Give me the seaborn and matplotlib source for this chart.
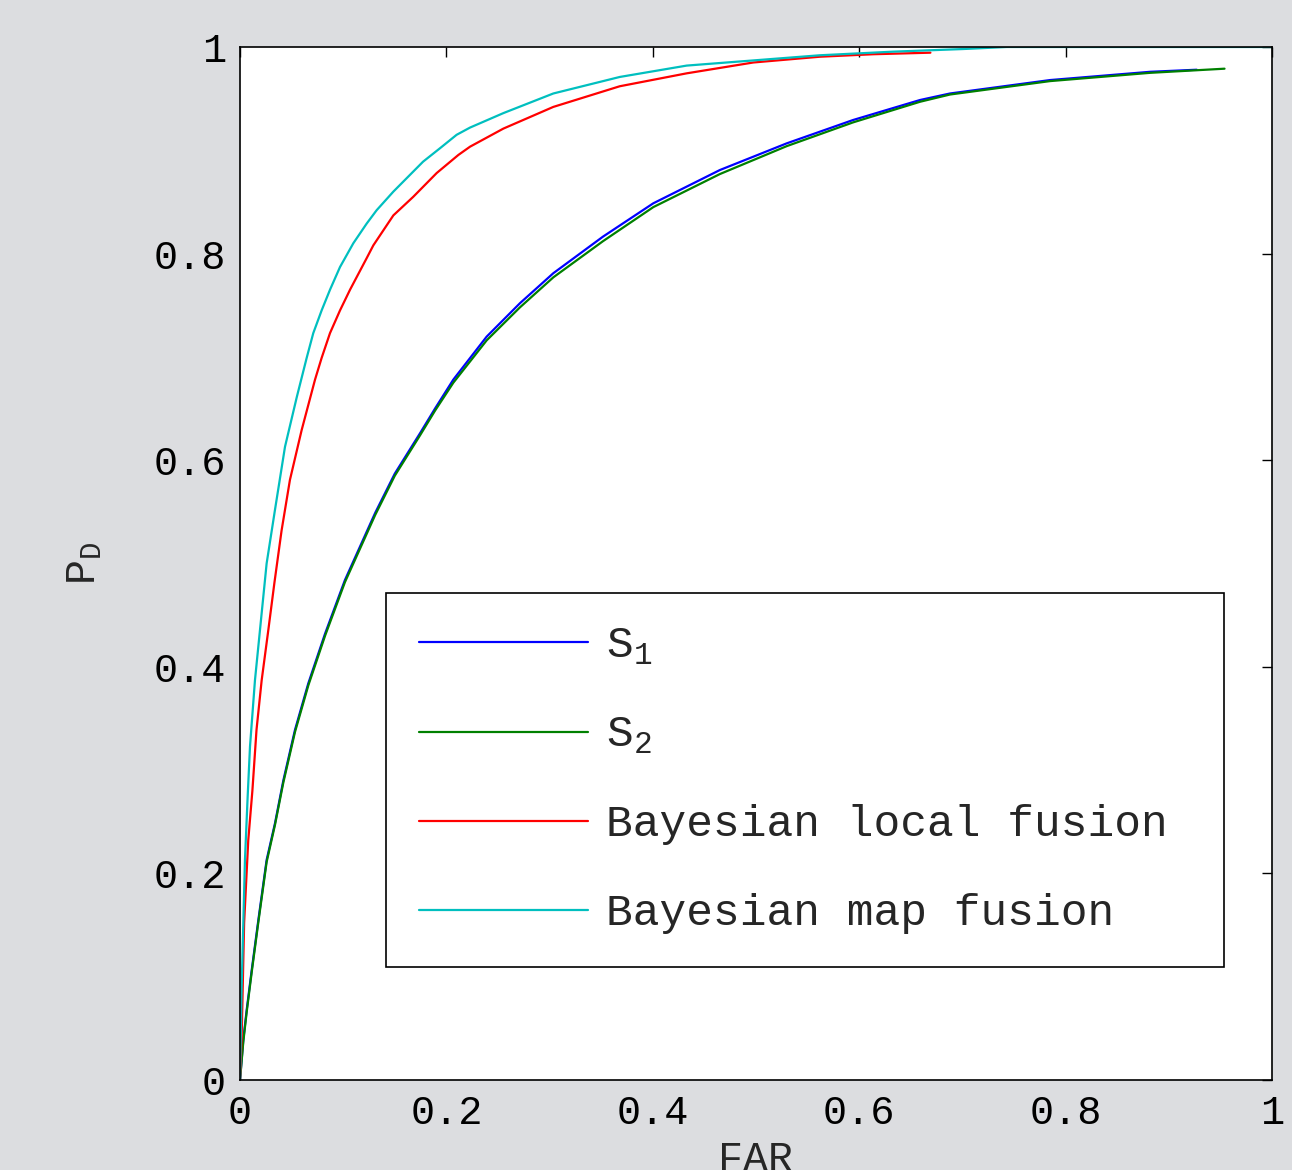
import numpy as np
import pandas as pd
import matplotlib
matplotlib.use("Agg")
import matplotlib.pyplot as plt
import seaborn as sns

# ROC curves (FAR, P_D)
s1_far = [0, 0.0032, 0.0065, 0.0113, 0.0178, 0.0258, 0.0339, 0.042, 0.0533, 0.0662, 0.0824,
          0.1017, 0.131, 0.150, 0.1744, 0.189, 0.2067, 0.239, 0.2713, 0.3036, 0.3517, 0.4005,
          0.465, 0.5297, 0.594, 0.659, 0.688, 0.785, 0.882, 0.927]
s1_pd = [0, 0.039, 0.068, 0.106, 0.155, 0.213, 0.2485, 0.29, 0.339, 0.384, 0.432,
         0.484, 0.549, 0.587, 0.626, 0.650, 0.678, 0.7196, 0.752, 0.781, 0.8164, 0.8487,
         0.8809, 0.9067, 0.9293, 0.9487, 0.955, 0.968, 0.976, 0.978]

s2_far = [0, 0.0032, 0.0065, 0.0113, 0.0178, 0.0258, 0.0339, 0.042, 0.0533, 0.0662, 0.0824,
          0.1017, 0.131, 0.150, 0.1744, 0.189, 0.2067, 0.239, 0.2713, 0.3036, 0.3517, 0.4005,
          0.465, 0.5297, 0.594, 0.659, 0.688, 0.785, 0.882, 0.954]
s2_pd = [0, 0.037, 0.066, 0.104, 0.153, 0.211, 0.247, 0.288, 0.337, 0.382, 0.430,
         0.482, 0.547, 0.585, 0.624, 0.648, 0.675, 0.716, 0.748, 0.777, 0.812, 0.845,
         0.877, 0.904, 0.927, 0.947, 0.954, 0.967, 0.975, 0.979]

local_far = [0, 0.0016, 0.004, 0.008, 0.012, 0.016, 0.021, 0.0275, 0.0333, 0.0403, 0.0484,
             0.0597, 0.0727, 0.0791, 0.0872, 0.0969, 0.1066, 0.1227, 0.1292, 0.1486, 0.1679,
             0.1906, 0.2116, 0.2229, 0.2552, 0.3036, 0.368, 0.4328, 0.4974, 0.562, 0.6137, 0.669]
local_pd = [0, 0.042, 0.152, 0.232, 0.28, 0.339, 0.387, 0.436, 0.481, 0.532, 0.581,
            0.629, 0.678, 0.699, 0.723, 0.745, 0.765, 0.7955, 0.808, 0.837, 0.855,
            0.878, 0.8955, 0.9035, 0.921, 0.942, 0.962, 0.9745, 0.985, 0.9906, 0.993, 0.9945]

map_far = [0, 0.0016, 0.0048, 0.0074, 0.0097, 0.0145, 0.0194, 0.0258, 0.0339, 0.0436, 0.055,
           0.0646, 0.0710, 0.0791, 0.0872, 0.0969, 0.1098, 0.1227, 0.1324, 0.1486, 0.1774,
           0.1938, 0.2099, 0.2229, 0.2552, 0.3036, 0.368, 0.4328, 0.4974, 0.562, 0.633,
           0.70, 0.743, 1.0]
map_pd = [0, 0.09, 0.213, 0.274, 0.323, 0.387, 0.436, 0.50, 0.552, 0.613, 0.661,
          0.699, 0.723, 0.745, 0.765, 0.787, 0.810, 0.829, 0.842, 0.860, 0.889,
          0.902, 0.915, 0.922, 0.936, 0.955, 0.971, 0.982, 0.987, 0.992, 0.9955,
          0.998, 1.0, 1.0]

series_names = ["S1", "S2", "local", "map"]
legend_labels = [r"S$_1$", r"S$_2$", "Bayesian local fusion", "Bayesian map fusion"]
colors = {"S1": (0, 0, 1), "S2": (0, 0.5, 0), "local": (1, 0, 0), "map": (0, 0.75, 0.75)}
tick_vals = [0, 0.2, 0.4, 0.6, 0.8, 1]
tick_labels = ["0", "0.2", "0.4", "0.6", "0.8", "1"]

frames = []
for name, far, pd_ in zip(series_names, [s1_far, s2_far, local_far, map_far],
                          [s1_pd, s2_pd, local_pd, map_pd]):
    frames.append(pd.DataFrame({"FAR": far, "PD": pd_, "series": name}))
df = pd.concat(frames, ignore_index=True)

sns.set_theme(style="white")
plt.rcParams["font.family"] = ["Liberation Mono", "DejaVu Sans"]
plt.rcParams["mathtext.fontset"] = "custom"
plt.rcParams["mathtext.rm"] = "Liberation Mono"
plt.rcParams["mathtext.it"] = "Liberation Mono"

bg = "#dcdde0"
fig = plt.figure(figsize=(12.92, 11.70), dpi=100, facecolor=bg)
ax = fig.add_axes([240 / 1292, 1 - 1080 / 1170, 1032 / 1292, 1033 / 1170])
ax.set_facecolor("white")

sns.lineplot(data=df, x="FAR", y="PD", hue="series", hue_order=series_names,
             palette=colors, sort=False, estimator=None, units="series",
             linewidth=1.6, legend=False, ax=ax)

ax.set_xlim(0, 1)
ax.set_ylim(0, 1)
ax.set_xticks(tick_vals)
ax.set_xticklabels(tick_labels)
ax.set_yticks(tick_vals)
ax.set_yticklabels(tick_labels)
ax.tick_params(direction="in", length=7, width=1, top=True, right=True,
               labelsize=29, colors="black", pad=10)
for sp in ax.spines.values():
    sp.set_color("black")
    sp.set_linewidth(1.2)
    sp.set_visible(True)

ax.set_xlabel("FAR", fontsize=30, labelpad=6)
ax.set_ylabel(r"P$_D$", fontsize=30, labelpad=36)

handles = ax.lines[:4]
leg = ax.legend(handles, legend_labels, loc="upper left",
                bbox_to_anchor=(0.1415, 0.4714, 0.812, 0.0), mode="expand",
                fontsize=32, frameon=True, fancybox=False, edgecolor="black",
                framealpha=1, handlelength=3.8, handletextpad=0.4,
                borderpad=0.74, labelspacing=1.08, borderaxespad=0)
leg.get_frame().set_linewidth(1.2)

fig.savefig("out.png", dpi=100, facecolor=bg)
